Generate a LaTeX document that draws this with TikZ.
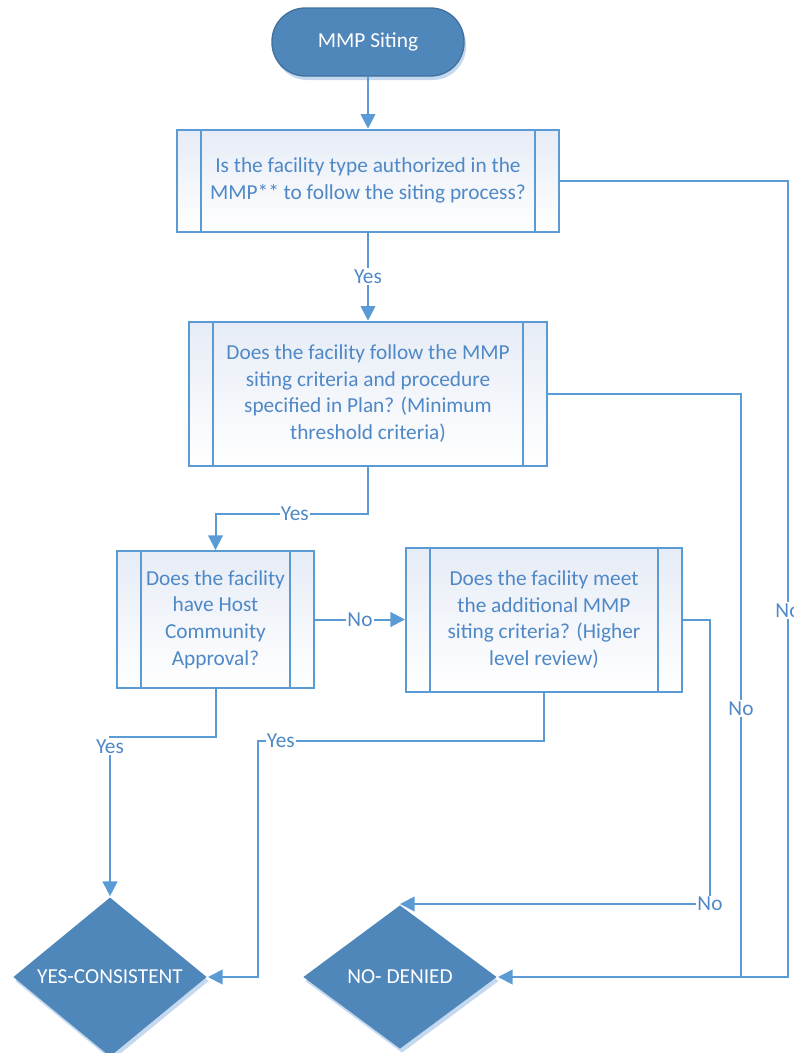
\documentclass[tikz,border=0pt]{standalone}
\usepackage{fontspec}
\setmainfont{Carlito}
\usetikzlibrary{positioning,shapes.geometric,arrows.meta,shadows}

\definecolor{flowline}{HTML}{5B9BD5}
\definecolor{flowtext}{HTML}{4F88C6}
\definecolor{termfill}{HTML}{4F87BA}
\definecolor{termedge}{HTML}{41719C}
\definecolor{proctop}{HTML}{E6ECF6}
\definecolor{shadowblue}{HTML}{C4D9EF}

\begin{document}
\begin{tikzpicture}[x=0.75pt, y=-0.75pt, line width=1.5pt,
  font=\fontsize{16}{20}\selectfont, >={Triangle[length=11pt,width=11pt]},
  term/.style = {draw=termedge, line width=1pt, fill=termfill, text=white,
    rounded corners=25pt, minimum width=144pt, minimum height=51pt,
    drop shadow={fill=shadowblue, opacity=1, shadow xshift=1.5pt, shadow yshift=-3pt}},
  proc/.style = {draw=flowline, top color=proctop, bottom color=white,
    text=flowtext, align=center, inner sep=2pt,
    path picture={\draw[flowline, line width=1.5pt]
      ([xshift=18pt]path picture bounding box.north west) -- ([xshift=18pt]path picture bounding box.south west)
      ([xshift=-18pt]path picture bounding box.north east) -- ([xshift=-18pt]path picture bounding box.south east);}},
  stop/.style = {diamond, fill=termfill, text=white, inner sep=0pt,
    minimum width=145.5pt, minimum height=108pt,
    drop shadow={fill=shadowblue, opacity=1, shadow xshift=1.5pt, shadow yshift=-3pt}},
  lbl/.style = {fill=white, text=flowtext, inner sep=1pt}]

\useasboundingbox (0,0) rectangle (793,1053);

% boxes
\node[term] (siting) at (368,42) {MMP Siting};
\node[proc, minimum width=286.5pt, minimum height=76.5pt] (type) [below=39pt of siting]
  {Is the facility type authorized in the\\MMP** to follow the siting process?};
\node[proc, minimum width=268.5pt, minimum height=108pt] (criteria) [below=66pt of type]
  {Does the facility follow the MMP\\siting criteria and procedure\\specified in Plan? (Minimum\\threshold criteria)};
\node[proc, minimum width=147.75pt, minimum height=102.75pt] (host) at (215.5,619.5)
  {Does the facility\\have Host\\Community\\Approval?};
\node[proc, minimum width=207pt, minimum height=108pt] (review) [right=67.5pt of host]
  {Does the facility meet\\the additional MMP\\siting criteria? (Higher\\level review)};

% outcomes
\node[stop] (consistent) at (110,977) {YES-CONSISTENT};
\node[stop] (denied) at (400,977) {NO- DENIED};
\coordinate (join) at (741,977);

% connectors
\draw[->, flowline] (siting) -- (type);
\draw[->, flowline] (type) -- node[lbl]{Yes} (criteria);
\draw[->, flowline] (type.east) -- ++(228,0) |- node[lbl, pos=0.27]{No} (denied.east);
\draw[flowline] (criteria.east) -| node[lbl, pos=0.77]{No} (join);
\draw[->, flowline] (criteria.south) -- ++(0,47) -| node[lbl, pos=0.24]{Yes} (host.north);
\draw[->, flowline] (host) -- node[lbl]{No} (review);
\draw[->, flowline] (host.south) -- ++(0,48) -| node[lbl, pos=0.53]{Yes} (consistent.north);
\draw[->, flowline] (review.south) -- ++(0,48) -- node[lbl, pos=0.92]{Yes} ++(-286,0) |- (consistent.east);
\draw[->, flowline] (review.east) -- ++(27,0) |- node[lbl, pos=0.5]{No} (denied.north);

\end{tikzpicture}
\end{document}
